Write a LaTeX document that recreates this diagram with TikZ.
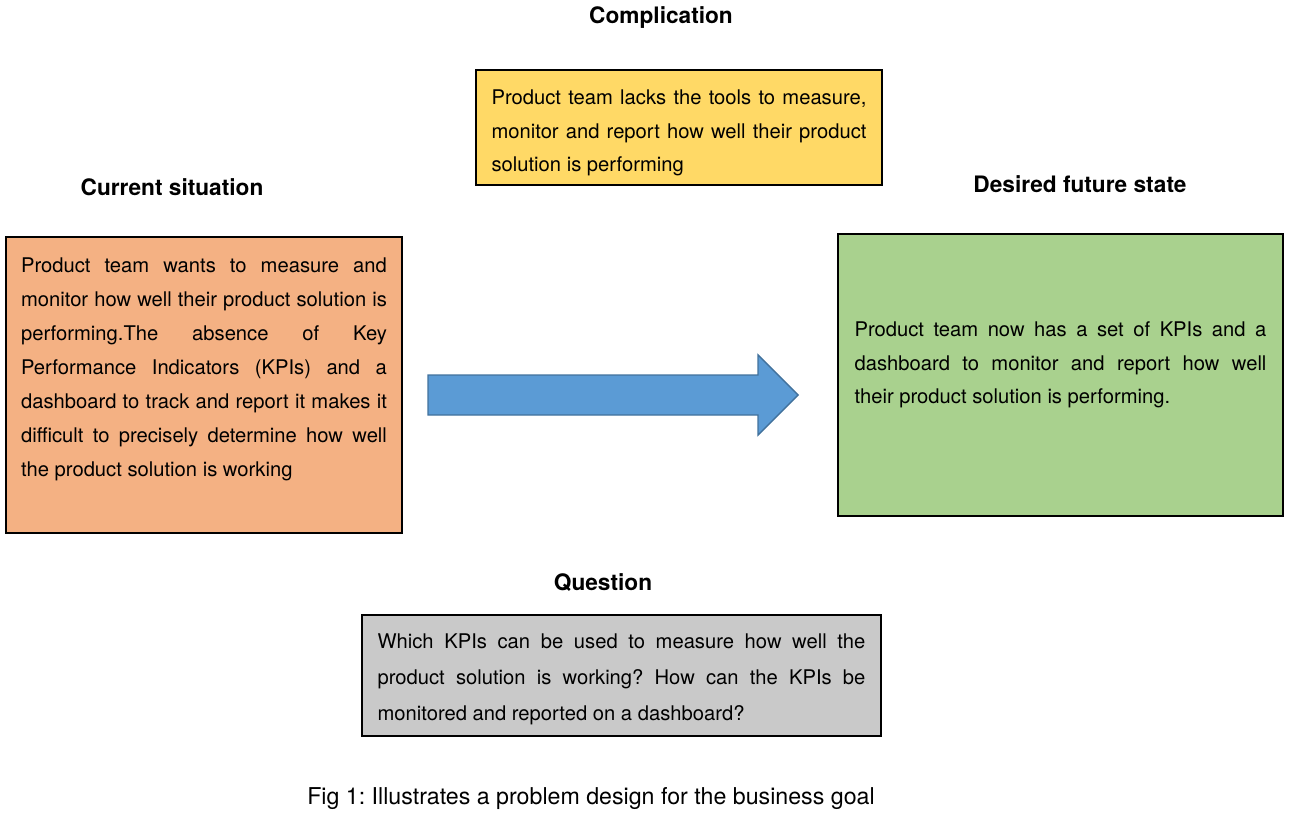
\documentclass[tikz,border=0pt]{standalone}
\usepackage{fontspec}
\setmainfont{TeX Gyre Heros}
\usetikzlibrary{positioning, calc}

\definecolor{curfill}{HTML}{F4B183}
\definecolor{compfill}{HTML}{FFD966}
\definecolor{desfill}{HTML}{A9D18E}
\definecolor{quesfill}{HTML}{C9C9C9}
\definecolor{arrowblue}{HTML}{5B9BD5}
\definecolor{arrowedge}{HTML}{41719C}

\tolerance=10000
\hbadness=10000
\hyphenpenalty=10000
\frenchspacing

\begin{document}
\begin{tikzpicture}[x=0.02cm, y=-0.02cm,
    panel/.style={draw=black, line width=1.1pt, inner sep=0pt},
    paneltext/.style={align=justify, inner sep=0pt, font=\fontsize{11.5}{19.4}\selectfont},
    heading/.style={font=\fontsize{12.9}{15}\selectfont\bfseries}]
    \useasboundingbox (0,0) rectangle (1292,814);

    % Boxes
    \node[panel, fill=compfill, minimum width=8.12cm, minimum height=2.3cm] (comp) at (679,127.5) {};
    \node[panel, fill=curfill, minimum width=7.92cm, minimum height=5.92cm] (cur) at (204,385) {};
    \node[panel, fill=desfill, minimum width=8.9cm, minimum height=5.64cm] (des) at (1060.5,375) {};
    \node[panel, fill=quesfill, minimum width=10.38cm, minimum height=2.42cm] (ques) at (621.5,675.5) {};

    % Box texts
    \node[paneltext, text width=7.5cm, font=\fontsize{11.5}{19}\selectfont] (comptext) at ([yshift=-0.11cm]comp.center)
        {Product team lacks the tools to measure,\linebreak monitor and report how well their product\linebreak solution is performing};
    \node[paneltext, text width=7.32cm] (curtext) at ([yshift=0.31cm]cur.center)
        {Product team wants to measure and\linebreak monitor how well their product solution is\linebreak performing.The absence of Key\linebreak Performance Indicators (KPIs) and a\linebreak dashboard to track and report it makes it\linebreak difficult to precisely determine how well\linebreak the product solution is working};
    \node[paneltext, text width=8.24cm, font=\fontsize{11.5}{19}\selectfont] (destext) at ([yshift=0.2cm]des.center)
        {Product team now has a set of KPIs and a\linebreak dashboard to monitor and report how well\linebreak their product solution is performing.};
    \node[paneltext, text width=9.76cm, font=\fontsize{11.5}{20.4}\selectfont] (questext) at ([yshift=-0.07cm]ques.center)
        {Which KPIs can be used to measure how well the\linebreak product solution is working? How can the KPIs be\linebreak monitored and reported on a dashboard?};

    % Titles
    \node[heading] (comptitle) at (661,18) {Complication};
    \node[heading] (curtitle) at (172,187) {Current situation};
    \node[heading] (destitle) at (1080,184) {Desired future state};
    \node[heading] (questitle) at (603,583) {Question};

    % Big arrow
    \coordinate (tail) at (428,395);
    \draw[draw=arrowedge, fill=arrowblue, line width=0.8pt]
        (tail) ++(0,-20) -- ++(330,0) -- ++(0,-20) -- ++(40,40) -- ++(-40,40) -- ++(0,-20) -- ++(-330,0) -- cycle;

    % Caption
    \node[font=\fontsize{13.2}{15}\selectfont] (caption) at (591,799) {Fig 1: Illustrates a problem design for the business goal};
\end{tikzpicture}
\end{document}
